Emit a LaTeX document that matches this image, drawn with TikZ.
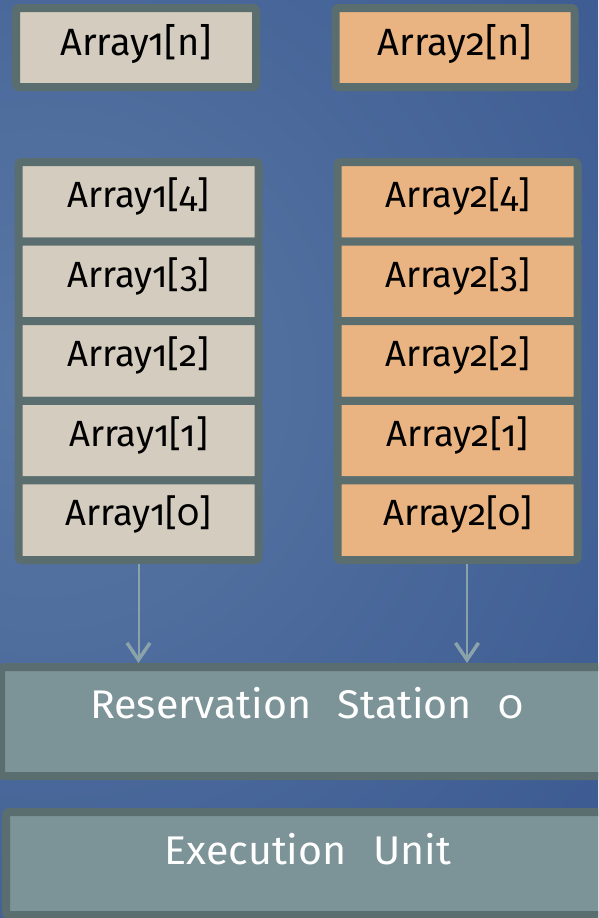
\documentclass[tikz,border=0pt]{standalone}
\usepackage{fontspec}
\usepackage{graphicx}
\setmainfont{Fira Sans}[Numbers=OldStyle]
\usetikzlibrary{arrows.meta}

\definecolor{bgdark}{HTML}{2C4B88}
\definecolor{bglight}{HTML}{5A78A4}
\definecolor{edge}{HTML}{5B6E6F}
\definecolor{greycell}{HTML}{D4CCBE}
\definecolor{orangecell}{HTML}{E9B482}
\definecolor{unitfill}{HTML}{7C9498}
\definecolor{flow}{HTML}{8AA2AA}

\newcommand{\widetext}[1]{{\spaceskip=0.65em\relax\scalebox{1.03}[1]{#1}}}

\begin{document}
\begin{tikzpicture}[x=1pt,y=-1pt,
  box/.style={draw=edge, line width=8pt, rounded corners=3pt, inner sep=0pt},
  cell/.style={box, minimum width=240pt, minimum height=79.6pt,
    text height=25pt, text depth=13.8pt, font=\fontsize{36.5pt}{44pt}\selectfont},
  topcell/.style={cell, minimum height=79pt,
    text height=27pt, text depth=11.8pt, font=\fontsize{38pt}{46pt}\selectfont},
  first/.style={fill=greycell},
  second/.style={fill=orangecell},
  unit/.style={box, fill=unitfill, text=white, font=\fontsize{40pt}{48pt}\selectfont},
  flowarrow/.style={draw=flow, line width=2pt,
    -{Straight Barb[length=17pt,width=23pt,line width=3.5pt]}}
]
\useasboundingbox (0,0) rectangle (598,918);

% background
\fill[bgdark] (0,0) rectangle (598,918);
\begin{scope}
  \clip (0,0) rectangle (598,918);
  \shade[inner color=bglight, outer color=bgdark] (40,380) circle (1100);
\end{scope}

\begin{scope}
\clip (0,0) rectangle (598,918);

% top row
\node[topcell, first, minimum width=240pt]  (a1n) at (136,47.5)   {Array1[n]};
\node[topcell, second, minimum width=239pt] (a2n) at (455,47.5)   {Array2[n]};

% first array stack
\node[cell, first] (a14) at (138.5,201.8) {Array1[4]};
\node[cell, first] (a13) at (138.5,281.4) {Array1[3]};
\node[cell, first] (a12) at (138.5,361.0) {Array1[2]};
\node[cell, first] (a11) at (138.5,440.6) {Array1[1]};
\node[cell, first] (a10) at (138.5,520.2) {Array1[0]};

% second array stack
\node[cell, second] (a24) at (457.5,201.8) {Array2[4]};
\node[cell, second] (a23) at (457.5,281.4) {Array2[3]};
\node[cell, second] (a22) at (457.5,361.0) {Array2[2]};
\node[cell, second] (a21) at (457.5,440.6) {Array2[1]};
\node[cell, second] (a20) at (457.5,520.2) {Array2[0]};

% units
\node[unit, minimum width=612pt, minimum height=109pt,
      text height=19pt, text depth=24.4pt] (rs) at (307,721.5)
      {\widetext{Reservation Station 0}};
\node[unit, minimum width=604pt, minimum height=103pt,
      text height=21pt, text depth=18.4pt] (eu) at (308,863.5)
      {\widetext{Execution Unit}};

% data flow
\coordinate (s2) at ([xshift=9.5pt]a20.south);
\draw[flowarrow] (a10.south) -- (a10.south |- rs.north);
\draw[flowarrow] (s2) -- (s2 |- rs.north);
\end{scope}
\end{tikzpicture}
\end{document}
